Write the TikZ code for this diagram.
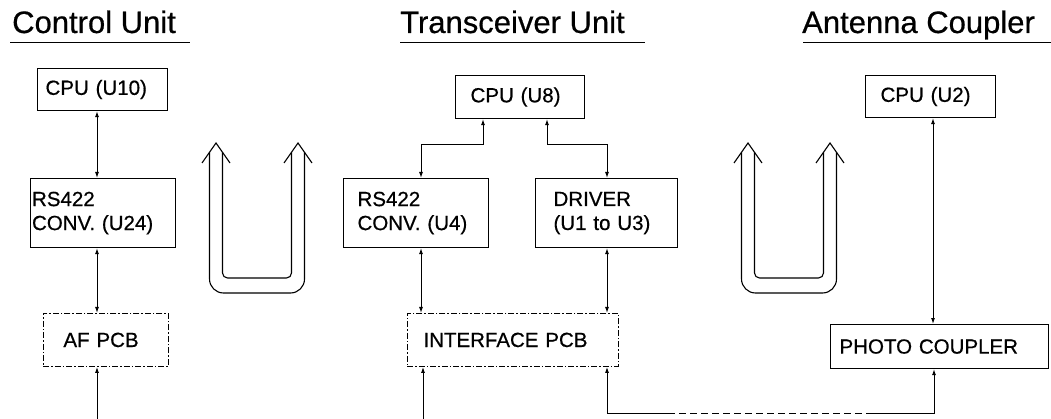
\documentclass[tikz,border=0pt]{standalone}
\usepackage{fontspec}
\setmainfont{Liberation Sans}
\newfontfamily\scanfont{Liberation Sans}[FakeBold=0.6]
\usepackage{tikz}
\usetikzlibrary{arrows.meta}

\begin{document}
\begin{tikzpicture}[
        x=1pt, y=-1pt,
        >={Latex[length=6pt,width=4pt]},
        title/.style={anchor=base west, inner sep=0pt, font=\scanfont\fontsize{31}{36}\selectfont},
        box/.style={draw, line width=1.1pt, anchor=north west, align=left, inner ysep=0pt,
            font=\scanfont\fontsize{20.5}{24}\selectfont},
        pcb/.style={box, line width=0.9pt, dash pattern=on 6pt off 2pt on 1.5pt off 2pt},
        link/.style={line width=1pt},
        uarrow/.style={line width=1.1pt, line join=miter}
    ]
        \useasboundingbox (0,0) rectangle (1051,419);

        % titles
        \node[title] (ctlT) at (12,33) {Control Unit};
        \node[title] (trxT) at (400,33) {Transceiver Unit};
        \node[title] (antT) at (802,33) {Antenna Coupler};
        \draw[line width=1pt] (10,43) -- (190,43);
        \draw[line width=1pt] (400,43) -- (645,43);
        \draw[line width=1pt] (803,43) -- (1051,43);

        % control unit
        \node[box, minimum height=42, text width=114, inner xsep=8] (cpuA) at (37,68) {CPU (U10)};
        \node[box, minimum height=69, text width=142, inner xsep=1.5] (rsA) at (30,178) {RS422\\CONV. (U24)};
        \node[pcb, minimum height=53, text width=85, inner xsep=20] (afpcb) at (43,313) {AF PCB};

        % transceiver unit
        \node[box, minimum height=43, text width=99, inner xsep=15] (cpuB) at (455,75) {CPU (U8)};
        \node[box, minimum height=69, text width=117, inner xsep=14] (rsB) at (343,178) {RS422\\CONV. (U4)};
        \node[box, minimum height=69, text width=106, inner xsep=18] (drv) at (535,178) {DRIVER\\(U1 to U3)};
        \node[pcb, minimum height=53, text width=179, inner xsep=16] (ifpcb) at (407,313) {INTERFACE PCB};

        % antenna coupler
        \node[box, minimum height=42, text width=100, inner xsep=15] (cpuC) at (865,75) {CPU (U2)};
        \node[box, minimum height=44, text width=200, inner xsep=9] (photo) at (830,324) {PHOTO COUPLER};

        \coordinate (xa) at (97,0);
        \coordinate (xb1) at (421,0);
        \coordinate (xb2) at (607,0);
        \coordinate (xb3) at (483,0);
        \coordinate (xb4) at (547,0);
        \coordinate (xc) at (933,0);
        \coordinate (botA) at (97,419);
        \coordinate (botB) at (423,419);
        \coordinate (dl) at (607,413);
        \coordinate (d1) at (668,413);
        \coordinate (d2) at (870,413);
        \coordinate (dr) at (934,413);

        \draw[link, <->] (cpuA.south -| xa) -- (rsA.north -| xa);
        \draw[link, <->] (rsA.south -| xa) -- (afpcb.north -| xa);
        \draw[link, ->] (botA) -- (afpcb.south -| botA);

        \draw[link, <->] (cpuB.south -| xb3) -- ++(0,25) -| (rsB.north -| xb1);
        \draw[link, <->] (cpuB.south -| xb4) -- ++(0,25) -| (drv.north -| xb2);
        \draw[link, <->] (rsB.south -| xb1) -- (ifpcb.north -| xb1);
        \draw[link, <->] (drv.south -| xb2) -- (ifpcb.north -| xb2);
        \draw[link, ->] (botB) -- (ifpcb.south -| botB);

        \draw[link, <->] (cpuC.south -| xc) -- (photo.north -| xc);

        % interface pcb to photo coupler
        \draw[link, <-] (ifpcb.south -| dl) -- (dl) -- (d1);
        \draw[link, dash pattern=on 7pt off 4pt] (d1) -- (d2);
        \draw[link, ->] (d2) -- (dr) -- (photo.south -| dr);

        % hollow U arrows
        \foreach \ux in {216,748} {
            \draw[uarrow] (\ux-14,163) -- (\ux,143) -- (\ux+14,163)
                (\ux+68,163) -- (\ux+82,143) -- (\ux+96,163);
            \draw[uarrow] (\ux+6.5,152.3) -- (\ux+6.5,273)
                arc[start angle=180, end angle=90, radius=5] -- (\ux+70.5,278)
                arc[start angle=90, end angle=0, radius=5] -- (\ux+75.5,152.3);
            \draw[uarrow] (\ux+88.5,152.3) -- (\ux+88.5,279)
                arc[start angle=0, end angle=90, radius=14] -- (\ux+7.5,293)
                arc[start angle=90, end angle=180, radius=14] -- (\ux-6.5,152.3);
        }
    \end{tikzpicture}
\end{document}
